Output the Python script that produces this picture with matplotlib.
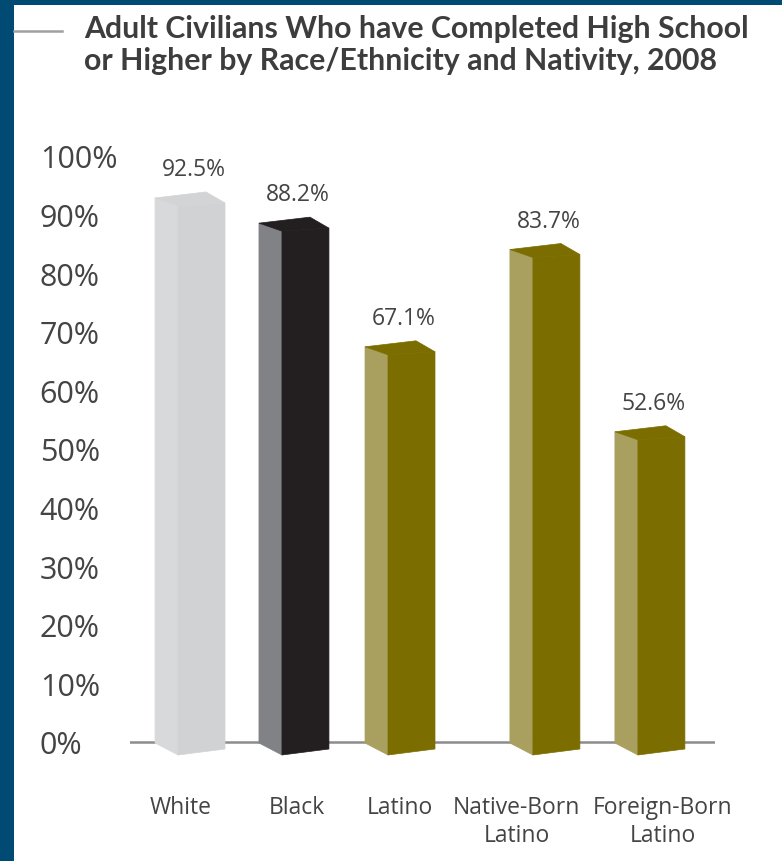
import matplotlib
matplotlib.use('Agg')
import matplotlib.pyplot as plt
from matplotlib.patches import Polygon, Rectangle

categories = ['White', 'Black', 'Latino', 'Native-Born\nLatino', 'Foreign-Born\nLatino']
values = [92.5, 88.2, 67.1, 83.7, 52.6]
value_labels = ['92.5%', '88.2%', '67.1%', '83.7%', '52.6%']
y_ticks = [0, 10, 20, 30, 40, 50, 60, 70, 80, 90, 100]
y_tick_labels = ['%d%%' % t for t in y_ticks]

# layout (category units)
bar_pos = [0, 0.99, 2.0, 3.38, 4.38]
label_pos = [-0.09, 1.02, 2.0, 3.11, 4.5]

# colours: (side face, front face, top face)
face_colors = [
    ('#d8d9db', '#d1d2d4', '#d3d4d6'),
    ('#808285', '#231f20', '#231f20'),
    ('#a99f5e', '#7b6d00', '#7b6d00'),
    ('#a99f5e', '#7b6d00', '#7b6d00'),
    ('#a99f5e', '#7b6d00', '#7b6d00'),
]

TEXT = '#444444'
XPX = 1 / 105.0   # data units per pixel, x
YPX = 1 / 5.86    # data units per pixel, y


def drawPrism(ax, xc, value, cols):
    x0 = xc - 35 * XPX
    x1 = xc - 12 * XPX
    x2 = xc + 35 * XPX
    xd = x1 + 28 * XPX
    b_top = value - 6 * YPX
    a_top = b_top + 8 * YPX
    c_top = b_top + 3 * YPX
    d_top = b_top + 14 * YPX
    b_bot = -13 * YPX
    a_bot = -1 * YPX
    c_bot = -7 * YPX
    side = Polygon([(x0, a_bot), (x0, a_top), (x1, b_top), (x1, b_bot)],
                   closed=True, facecolor=cols[0], edgecolor=cols[0], lw=0.5, zorder=3)
    front = Polygon([(x1, b_bot), (x1, b_top), (x2, c_top), (x2, c_bot)],
                    closed=True, facecolor=cols[1], edgecolor=cols[1], lw=0.5, zorder=3)
    top = Polygon([(x0, a_top), (xd, d_top), (x2, c_top), (x1, b_top)],
                  closed=True, facecolor=cols[2], edgecolor=cols[2], lw=0.5, zorder=3)
    for p in (side, front, top):
        ax.add_patch(p)


fig = plt.figure(figsize=(7.82, 8.62), dpi=100)
fig.patch.set_facecolor('white')

# dark blue frame
fig.patches.append(Rectangle((0, 0), 14 / 782, 1, transform=fig.transFigure,
                             facecolor='#004a73', edgecolor='none'))
fig.patches.append(Rectangle((0, 1 - 6 / 862), 1, 6 / 862, transform=fig.transFigure,
                             facecolor='#004a73', edgecolor='none'))

# title and little rule
fig.add_artist(plt.Line2D([14 / 782, 62 / 782], [1 - 32 / 862, 1 - 32 / 862],
                          color='#a0a0a0', lw=1.8))
fig.text(84 / 782, 1 - 45 / 862,
         'Adult Civilians Who have Completed High School\nor Higher by Race/Ethnicity and Nativity, 2008',
         ha='left', va='center', fontsize=21.8, fontweight='bold', family='Lato',
         color='#3d3d3d', linespacing=1.15)

ax = fig.add_axes([130 / 782, (862 - 800) / 862, 585 / 782, 670 / 862])
ax.set_xlim(-60 / 105.0, 525 / 105.0)
ax.set_ylim((743 - 800) / 5.86, (743 - 130) / 5.86)
for s in ax.spines.values():
    s.set_visible(False)
ax.patch.set_alpha(0)

ax.axhline(0, color='#8c8c8c', lw=1.8, zorder=1)

ax.set_yticks(y_ticks)
ax.set_yticklabels(y_tick_labels, family='Open Sans', fontsize=22, color=TEXT, ha='left')
ax.tick_params(axis='y', length=0, pad=65)
ax.set_xticks([])

for i in range(len(values)):
    drawPrism(ax, bar_pos[i], values[i], face_colors[i])
    ax.text(bar_pos[i] + 4 * XPX, values[i] + 31 * YPX, value_labels[i],
            ha='center', va='center', family='Open Sans', fontsize=16.5, color=TEXT)
    ax.text(label_pos[i], -53 * YPX, categories[i], ha='center', va='top',
            family='Open Sans', fontsize=16.5, color=TEXT, linespacing=1.25, clip_on=False)

fig.savefig('out.png', dpi=100, facecolor='white')
